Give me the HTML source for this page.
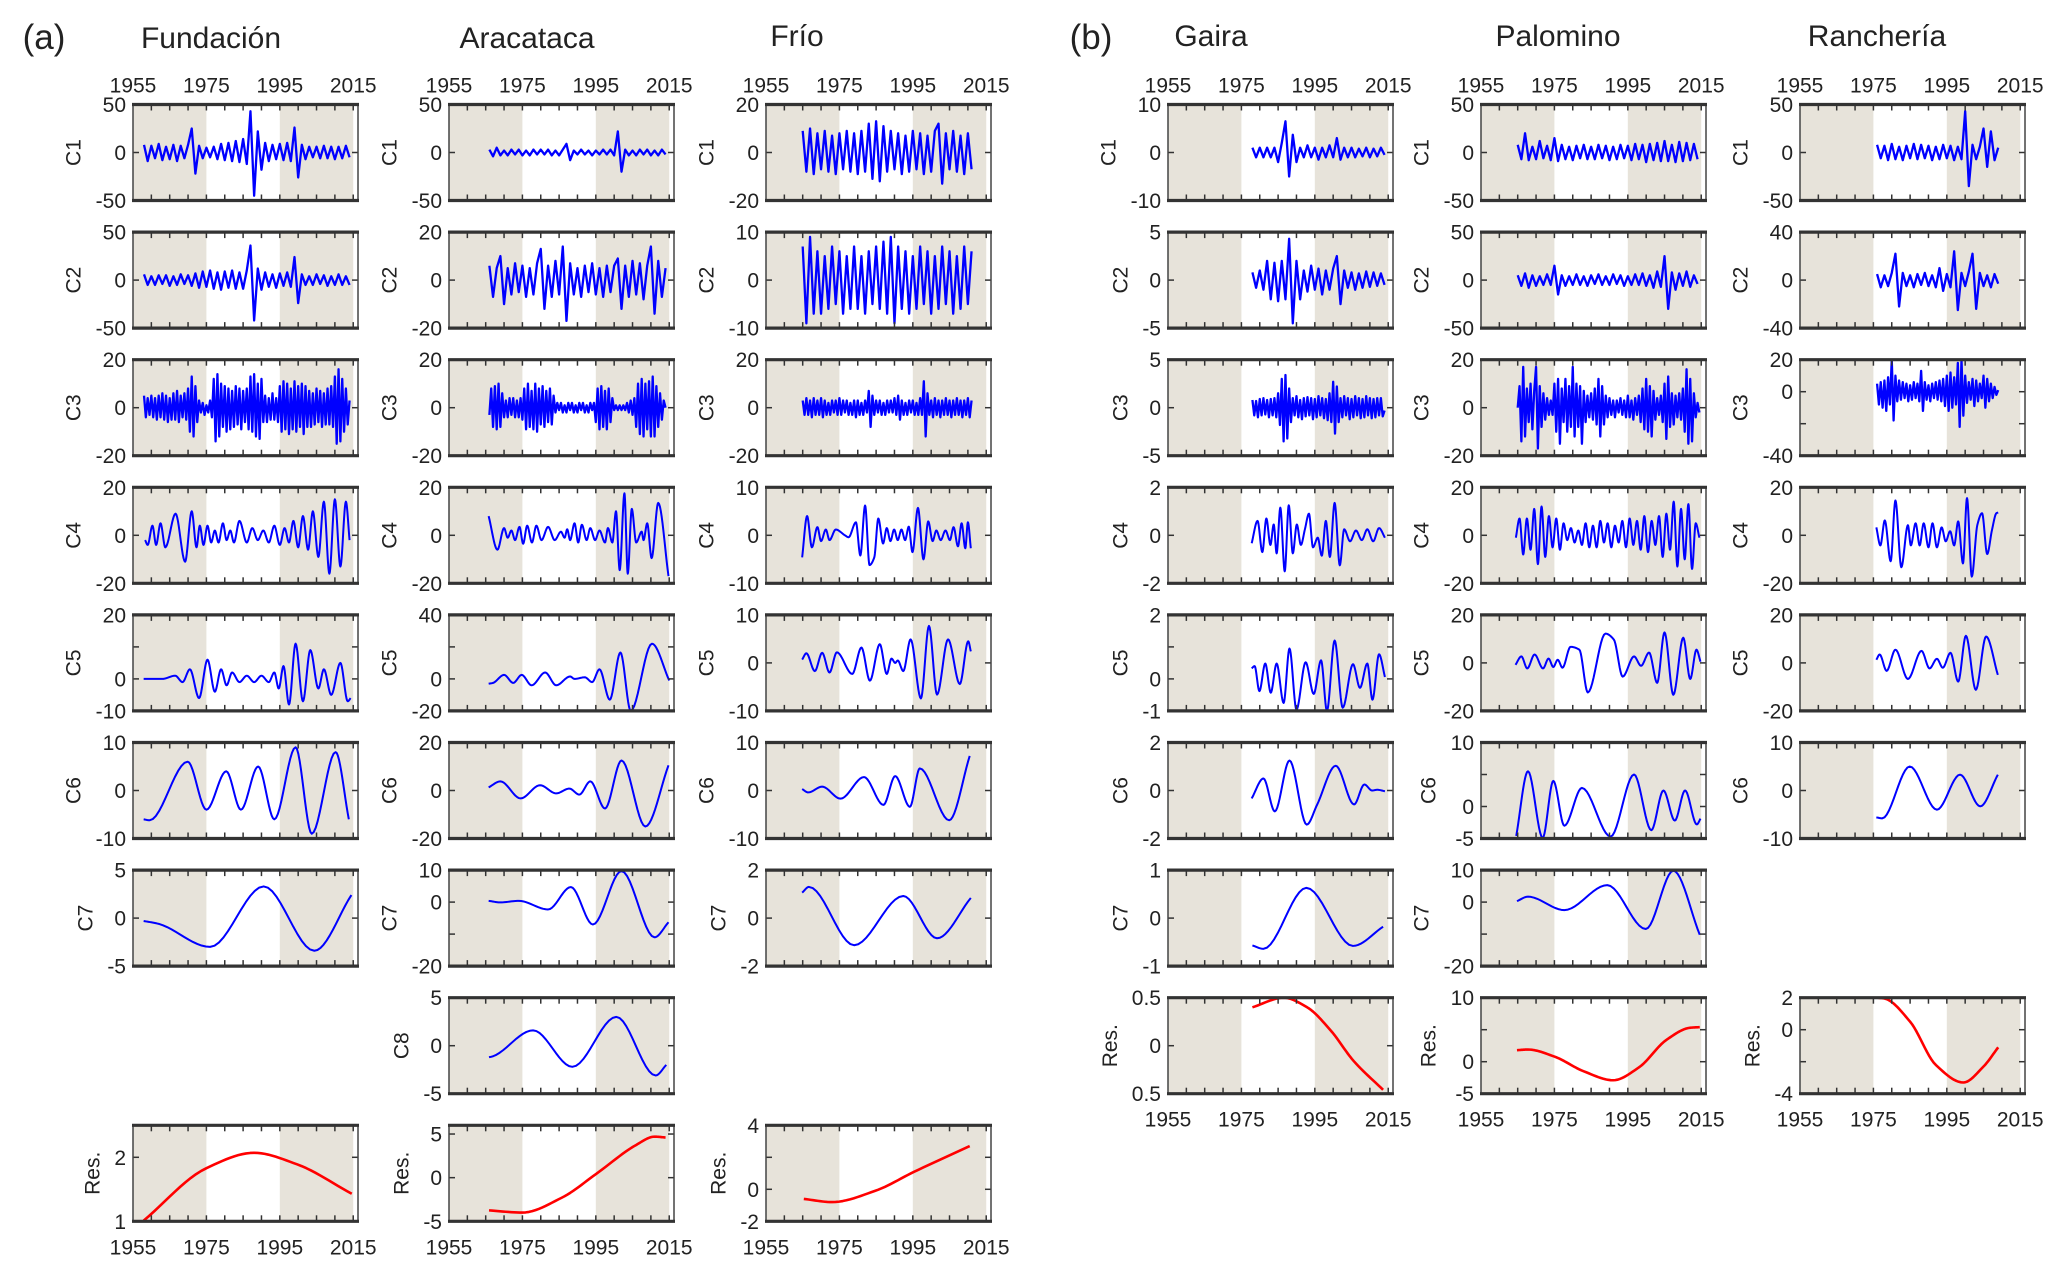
<!DOCTYPE html>
<html><head><meta charset="utf-8"><title>EMD components</title>
<style>
html,body{margin:0;padding:0;background:#fff;}
svg{display:block;font-family:"Liberation Sans",Arial,sans-serif;}
</style></head>
<body>
<svg id="fig" width="2067" height="1276" viewBox="0 0 2067 1276" xmlns="http://www.w3.org/2000/svg">
<rect x="0" y="0" width="2067" height="1276" fill="#fff"/>
<text x="44" y="49" font-size="35" text-anchor="middle" fill="#222">(a)</text>
<text x="211" y="48" font-size="30" text-anchor="middle" fill="#222">Fundación</text>
<text x="527" y="48" font-size="30" text-anchor="middle" fill="#222">Aracataca</text>
<text x="797" y="46" font-size="30" text-anchor="middle" fill="#222">Frío</text>
<text x="1091" y="49" font-size="35" text-anchor="middle" fill="#222">(b)</text>
<text x="1211" y="46" font-size="30" text-anchor="middle" fill="#222">Gaira</text>
<text x="1558" y="46" font-size="30" text-anchor="middle" fill="#222">Palomino</text>
<text x="1877" y="46" font-size="30" text-anchor="middle" fill="#222">Ranchería</text>
<g id="plots"></g>
</svg>
<script>
// ---------------- data ----------------
const yearTicks = [1955, 1975, 1995, 2015];
// Fundación
const fundC1 = [8,-9,7,-6,9,-8,6,-7,8,-9,7,-6,8,25,-22,7,-6,5,-5,6,-7,9,-8,10,-9,12,-10,14,-12,43,-45,22,-18,10,-9,8,-7,9,-8,10,-9,26,-26,8,-7,6,-5,6,-6,7,-6,6,-7,6,-6,7,-5];
const fundC2 = [6,-5,4,-5,5,-4,5,-6,4,-5,6,-4,5,-6,7,-8,9,-7,10,-9,8,-10,9,-8,10,-9,8,-9,10,36,-42,12,-10,8,-7,6,-8,7,-6,8,-7,24,-24,6,-5,4,-5,6,-4,5,-6,4,-5,6,-5,4,-5];
const fundC3 = [5,-4,4,-3,5,-4,4,-5,5,-4,6,-5,5,-6,4,-5,6,-5,7,-6,5,-4,6,-5,8,-10,13,-12,9,-6,3,-2,2,-3,1,-2,3,-4,12,-14,14,-12,10,-8,9,-10,8,-9,7,-8,9,-7,8,-9,7,-6,8,-9,13,-10,14,-12,10,-13,12,-6,5,-6,4,-5,6,-5,4,-6,9,-10,11,-9,10,-11,8,-9,11,-10,9,-8,10,-11,9,-8,7,-8,6,-7,8,-6,7,-8,6,-7,8,-7,9,-8,13,-15,16,-14,12,-10,8,-7,3];
const fundC4Yr = [1958.3,1959,1960.3,1961.3,1962.5,1963.8,1966.6,1969.2,1971,1972.3,1973.2,1974.2,1975.3,1976.3,1977.3,1978.3,1979.5,1980.5,1981.5,1982.5,1984,1986,1987.5,1989,1990.5,1992,1993.5,1995,1996.3,1997.5,1998.7,2000,2001.3,2002.7,2004,2005.5,2007,2008.5,2010,2011.5,2013,2014];
const fundC4Val = [-2,-4,4,-4,5,-5,9,-11,10,-5,4,-4,4,-3,2,-3,5,-2,2,-3,6,-3,3,-2,2,-3,4,-4,3,-3,6,-5,8,-6,10,-9,14,-16,15,-13,14,-2];
const fundC5Yr = [1957.9,1963,1966.5,1968.5,1970.5,1973,1975.3,1977.3,1979,1980.5,1982,1984,1986,1988,1990,1992,1993.5,1994.7,1996,1997.5,1999.3,2001.3,2003.3,2005.5,2007,2009,2011.5,2013.5,2014.3];
const fundC5Val = [0,0,1,-1,3,-6,6,-4,3,-2,2,-1,1,-1,1,-1,2,-3,4,-8,11,-7,9,-3,3,-5,5,-7,-6];
const fundC6Yr = [1957.9,1959.5,1969.9,1975,1980.4,1984.4,1989.1,1993.5,1999.3,2003.7,2010.2,2013.8];
const fundC6Val = [-6,-6.2,6,-4,4,-4,5,-6,9,-9,8,-6];
const fundC7Yr = [1957.9,1962,1976,1990.6,2004.4,2014.5];
const fundC7Val = [-0.3,-0.6,-3,3.3,-3.4,2.4];
const fundResYr = [1957.9,1975,1988,1999.7,2014.6];
const fundResVal = [1.01,1.83,2.07,1.89,1.43];
// Aracataca
const aracC1 = [3,-4,5,-3,2,-3,3,-2,3,-3,2,-3,3,-2,3,-2,3,-3,2,-3,3,9,-8,2,-2,3,-2,2,-3,2,-2,3,-2,3,-3,22,-20,3,-3,2,-3,3,-2,3,-3,2,-3,3,-2];
const aracC2 = [6,-7,5,10,-10,5,-6,7,-5,6,-7,5,-6,7,13,-12,6,-7,8,-6,14,-17,7,-6,5,-7,6,-5,7,-6,5,-7,6,-5,6,9,-12,6,-7,8,-6,7,-8,6,14,-14,8,-7,5];
const aracC3 = [-3,8,-8,9,-9,10,-8,6,-4,3,-4,4,-3,4,-4,3,-4,4,-5,8,-9,10,-8,7,-9,10,-10,8,-7,9,-8,7,-6,8,-7,5,-2,2,-1,2,-2,1,-2,2,-1,2,-2,1,-2,2,-1,2,-2,1,-2,2,-1,2,-6,8,-9,9,-8,7,-9,8,-6,4,-1,1,-1,1,-1,1,-1,2,-2,3,-3,4,-8,10,-11,12,-12,10,-9,11,-12,13,-12,9,-8,6,-5,3,0];
const aracC4Yr = [1965.8,1968.2,1970,1971,1972,1973,1974.2,1975.2,1976.3,1977.6,1978.8,1980.2,1982,1983.8,1985.5,1986.5,1987.2,1988,1989.2,1990.2,1991.2,1992.5,1993.5,1994.8,1996,1997.5,1998.3,1999.5,2000.5,2001.5,2002.8,2003.7,2004.8,2006,2007.5,2008,2009,2010.2,2012,2014.8];
const aracC4Val = [8,-6,3,-1,2,-2,3.5,-3.5,4,-3,4,-2,3.5,-2,1.5,-1,2.5,-2,5,-3,4.4,-2,3,-2,2,-3,3,-3,10,-14.5,17.5,-16,11,-3,1.5,-2,5,-9.5,13.5,-17];
const aracC5Yr = [1965.8,1967,1970,1972.5,1974.8,1977.5,1981.2,1984.2,1988,1989.2,1992,1994,1996,1998.8,2001.7,2004.5,2010.3,2015];
const aracC5Val = [-3,-2.5,2.5,-2.5,2.5,-4,4,-4,1.5,0,1,-2,6,-13,16.5,-20,22,-1];
const aracC6Yr = [1965.8,1969,1974.5,1979.8,1984.2,1987.8,1990.5,1993.5,1997.5,2002,2008.5,2014.8];
const aracC6Val = [1.3,3.8,-3.3,2.2,-1.2,0.8,-1.7,3.8,-7.5,12.5,-15,10.5];
const aracC7Yr = [1965.8,1969,1974,1982,1988.2,1994.2,2002,2011,2014.8];
const aracC7Val = [0.4,-0.1,0.4,-2.3,4.7,-7,9.7,-11,-6.3];
const aracC8Yr = [1965.9,1967,1977.9,1988.6,2000.6,2011.3,2014.2];
const aracC8Val = [-1.2,-1.1,1.6,-2.2,3,-3.1,-2];
const aracResYr = [1965.9,1975,1985.7,1995,2006,2011,2014];
const aracResVal = [-3.75,-4,-2.3,0.4,3.75,4.7,4.6];
// Frío
const frioC1 = [9,-8,10,-9,8,-7,9,-8,7,-9,8,-7,9,-8,8,-9,9,-8,12,-11,13,-12,11,-8,9,-7,8,-9,7,-8,9,-7,8,-9,7,-8,9,12,-13,8,-7,9,-8,7,-9,8,-7];
const frioC2 = [7,-9,9,-7,6,-7,5,-6,7,-5,6,-7,5,-6,7,-6,5,-7,6,-5,7,-6,8,-7,9,-9,7,-6,6,-7,5,-6,7,-5,6,-7,5,-6,7,-5,6,-7,5,-6,7,-5,6];
const frioC3 = [3,-3,4,-3,3,-4,4,-3,3,-3,4,-4,3,-3,2,-3,3,-2,3,-3,4,-3,3,-2,3,-3,2,-3,3,-4,3,-3,2,-3,3,-2,7,-8,5,-3,3,-2,3,-3,2,-3,3,-2,3,-2,4,-3,5,-5,3,-3,2,-3,3,-2,3,-3,2,-3,4,-3,11,-12,6,-3,3,-4,4,-3,3,-4,3,-3,4,-3,3,-4,3,-3,4,-3,3,-4,3,-3,4,-4,3];
const frioC4Yr = [1964.85,1966.2,1967.5,1969,1970,1971.3,1972.3,1974,1976.5,1977.5,1979.5,1980.7,1982,1983.2,1984.5,1985.6,1986.9,1987.9,1988.9,1989.9,1990.9,1991.9,1992.9,1993.9,1994.9,1996.4,1997.9,1999.2,2000.4,2001.4,2002.6,2003.9,2005.1,2006.1,2007.3,2008.3,2009.3,2010,2010.8];
const frioC4Val = [-4.6,4,-2.5,1.7,-1.2,1.2,-1,1.2,0,-0.4,2.7,-4.2,6.2,-6.2,-4.6,3.5,-1.7,1.5,-1.2,1.2,-1,1.2,-1,1.8,-3.5,5.7,-5,2.9,-1.2,1,-1,1,-1,1.7,-2.3,2.5,-2.7,2.7,-2.7];
const frioC5Yr = [1964.85,1966,1968.3,1970.3,1972.3,1974.3,1978.5,1981,1983.3,1986,1987.9,1989.2,1990.2,1990.9,1992.4,1994.4,1997.2,1999.4,2001.6,2004.6,2007.8,2010.1,2010.8];
const frioC5Val = [0.7,2,-1.7,2.1,-2,2.2,-2.3,3.2,-3.7,3.9,-2.3,0.9,0,0.5,-1.7,4.9,-7.4,7.7,-6.6,4.9,-4.4,4.5,2.4];
const frioC6Yr = [1964.85,1966.5,1970.3,1975.3,1981.7,1987,1990.2,1994.2,1996.9,2004.9,2010.5];
const frioC6Val = [0.3,-0.4,0.8,-1.7,2.8,-3,3,-3.4,4.6,-6.2,7.2];
const frioC7Yr = [1964.85,1966.7,1979,1992.4,2001.6,2010.8];
const frioC7Val = [1.06,1.3,-1.13,0.92,-0.84,0.84];
const frioResYr = [1965.3,1973,1984.7,1995.4,2010.5];
const frioResVal = [-0.6,-0.8,-0.1,1.1,2.7];
// Gaira
const gairaC1 = [1,-1,1,-1,1,-1,1,-2,2,6.5,-5,3.7,-2,1,-1,1.5,-1,1,-1.5,1,-1,1.5,-1,3,-1.5,1,-1,1,-1,0.8,-0.8,1,-1,0.8,-0.8,1,-0.5];
const gairaC2 = [0.8,-0.8,1,-1,2,-2,1.8,-2.2,2,-2,4.3,-4.5,2,-2,1,-1.2,1.5,-1,1.2,-1.5,1,-1,1.2,2.5,-2.5,1,-0.8,0.8,-1,0.7,-0.8,0.9,-0.7,0.8,-0.6,0.7,-0.5];
const gairaC3 = [0.8,-0.8,0.7,-1,0.9,-0.8,1,-0.7,0.8,-1,0.9,-0.8,1,-1,1.5,-1.8,3,-3.5,3.4,-3.2,2,-1.5,1,-0.8,1.2,-1,0.8,-1.2,1,-0.9,1.1,-0.8,1,-1.2,0.9,-1,1.2,-0.8,1,-1.1,0.9,-1.3,1.5,-1.5,2.7,-2.7,2.2,-1.5,1,-1,1.2,-0.8,1,-1.2,0.9,-1,1.2,-0.8,1,-1.1,0.9,-1,1.2,-0.8,1,-1.1,0.9,-1,1,-0.8,1,-0.9,-0.3];
const gairaC4Yr = [1977.8,1979.4,1980.7,1981.8,1982.9,1983.8,1984.6,1985.6,1986.8,1987.9,1989,1990.1,1991.2,1992.3,1993.4,1994.5,1995.8,1996.9,1998,1999.1,2000.4,2001.8,2003,2004.6,2006.2,2007.8,2009.3,2010.9,2012.5,2014.1];
const gairaC4Val = [-0.33,0.6,-0.7,0.7,-0.4,0.45,-0.75,1.15,-1.5,1.25,-0.75,0.45,-0.4,0.25,0.9,-0.5,-0.1,-0.85,0.6,-0.9,1.35,-1.25,0.25,-0.25,0.2,-0.2,0.25,-0.25,0.3,-0.1];
const gairaC5Yr = [1977.8,1978.6,1979.9,1981.5,1983,1984.6,1986.5,1988.1,1990,1992.5,1994.7,1996.7,1998.3,2000.4,2002.6,2005.4,2007.3,2009.3,2010.7,2012.5,2014.1];
const gairaC5Val = [0.33,0.4,-0.38,0.48,-0.43,0.48,-0.75,0.95,-0.96,0.52,-0.47,0.58,-1,1.2,-0.9,0.46,-0.28,0.48,-0.65,0.77,0.06];
const gairaC6Yr = [1977.8,1981,1984.1,1988.1,1992.8,1995.6,2000.7,2005.7,2008.5,2010.6,2012,2014.1];
const gairaC6Val = [-0.33,0.5,-0.87,1.25,-1.42,-0.6,1.03,-0.58,0.25,0,0.03,-0.03];
const gairaC7Yr = [1978,1981,1992.7,2005.4,2013.6];
const gairaC7Val = [-0.57,-0.64,0.63,-0.58,-0.18];
const gairaResYr = [1978,1986.5,1992.9,1999.3,2005.6,2013.6];
const gairaResVal = [0.4,0.5,0.4,0.16,-0.16,-0.46];
// Palomino
const palC1 = [8,-7,20,-8,6,-7,12,-6,7,-8,15,-9,8,-7,6,-8,7,-6,8,-7,6,-7,8,-6,7,-8,6,-7,8,-6,7,-8,9,-7,8,-10,9,-8,10,-9,12,-9,8,-10,11,-9,10,-8,9,-7];
const palC2 = [5,-6,7,-8,5,-6,4,-5,6,-5,15,-15,5,-6,4,-5,6,-5,4,-6,5,-4,6,-5,4,-5,6,-4,5,-6,4,-5,6,-5,7,-6,5,-8,9,-7,25,-30,8,-10,7,-6,9,-7,5,-4];
const palC3 = [0,9,-14,17,-12,8,-6,10,-9,7,17,-17,9,-8,6,-5,4,-3,3,-3,10,-10,12,-15,8,-6,12,-10,9,-8,17,-12,10,-8,9,-15,7,-6,5,-4,6,-5,8,-7,12,-12,9,-7,5,-4,4,-3,3,-4,3,-2,4,-3,3,-4,5,-4,3,-5,4,-3,5,-6,8,-9,12,-10,9,-12,7,-5,4,-3,5,-6,10,-13,13,-8,6,-7,5,-4,6,-5,8,-10,16,-15,12,-14,6,-4,2,-2];
const palC4 = [-1,7,-8,7,-6,11,-12,12,-9,8,-5,7,-6,5,-2,3,-3,2,-4,5,-5,4,-5,6,-3,5,-5,4,-3,6,-5,7,-4,6,-6,8,-7,6,-4,8,-9,9,-6,14,-13,11,-10,13,-14,5,-1];
const palC5Yr = [1964.4,1966,1967.6,1969.6,1971.9,1973.4,1974.7,1975.9,1977.2,1979.4,1981.8,1984.1,1988.9,1991.2,1993.6,1996.7,1998.6,2000.8,2003,2005,2007.4,2010.1,2012,2013.7,2014.8];
const palC5Val = [-0.8,2.7,-2.3,3.5,-2.3,1.8,-1.7,1.3,-2,6.7,5.5,-12.3,12.2,9.7,-5.7,2.7,-1.2,4.3,-8.3,12.7,-13.3,10.5,-6.7,5.5,0.5];
const palC6Yr = [1964.6,1967.8,1971.8,1974.7,1977.7,1982.5,1990.3,1996.7,2001.4,2004.7,2007.8,2010.6,2013.8,2014.8];
const palC6Val = [-4.6,5.5,-4.9,4,-3,2.9,-4.7,5,-3.7,2.5,-2.2,2.5,-2.8,-1.9];
const palC7Yr = [1964.8,1967.8,1977.7,1989.4,1999.9,2007.4,2014.6];
const palC7Val = [0.3,1.7,-2.5,5.3,-8.4,9.8,-10.2];
const palResYr = [1964.8,1967.8,1975,1983,1991,1998,2005.5,2011.9,2014.6];
const palResVal = [1.8,1.9,0.8,-1.5,-2.9,-0.9,3.4,5.3,5.4];
// Ranchería
const ranC1 = [8,-6,7,-8,9,-7,6,-8,7,-6,9,-7,8,-6,7,-8,6,-7,8,-6,7,-8,6,-7,43,-35,8,-7,6,25,-15,22,-8,5];
const ranC2 = [5,-6,4,-5,6,22,-22,6,-5,4,-6,5,-4,6,-5,4,-6,10,-9,5,-6,24,-25,6,-5,7,22,-24,6,-5,4,-6,5,-3];
const ranC3 = [5,-8,6,-10,7,-12,9,-8,20,-18,10,-6,7,-5,6,-4,5,-6,4,-5,6,-4,5,-6,13,-12,6,-5,4,-6,5,-4,6,-5,7,-6,8,-9,10,-12,12,-10,9,-8,18,-22,20,-15,10,-7,6,-5,8,-9,7,-6,5,-4,10,-10,8,-6,5,-4,3,-2,1];
const ranC4Yr = [1975.8,1976.9,1978.1,1979.7,1981,1982.6,1984.4,1985.2,1986.5,1987.6,1988.7,1990,1991.1,1992.3,1993.6,1994.7,1995.9,1997,1998.1,1999.4,2000.5,2001.8,2003.3,2004.6,2006,2007.3,2008.5,2009];
const ranC4Val = [3.3,-4.2,6.2,-10.8,14.5,-13.3,4.2,-4.2,5,-4.2,5,-5,5,-5,3.3,-2.5,1.7,-4.2,5.8,-11.7,15.5,-17.2,4.2,9.2,-7.8,2.2,9.2,9.5];
const ranC5Yr = [1975.8,1976.7,1978.6,1981,1984.4,1988.1,1990.3,1992.3,1993.9,1996,1998.1,2000.2,2002.9,2005.7,2008.9];
const ranC5Val = [1.3,3.5,-3.3,5.5,-6.7,5,-2.3,1.7,-2,4.2,-7.8,11.3,-11.2,11,-5];
const ranC6Yr = [1975.8,1977.4,1984.9,1992.3,1998.6,2004.1,2008.9];
const ranC6Val = [-5.6,-5.8,5,-4,3.3,-3.3,3.3];
const ranResYr = [1976,1978,1985,1992,1999.5,2005,2009];
const ranResVal = [2,1.95,0.5,-2.2,-3.3,-2.3,-1.1];

// ---------------- panel configuration ----------------
const COLS = [133, 449, 766, 1168, 1481, 1800];
const PW = 225, PH = 96, ROW0 = 104.5, RSTEP = 127.6, YSPAN = 61.3;
function D(start, step, vals){ return {kind:'dense', start:start, step:step, vals:vals}; }
function U(start, step, vals){ return {kind:'uni', start:start, step:step, vals:vals}; }
function P(yr, val, res){ return {kind:'pairs', yr:yr, val:val, res:!!res}; }
const panels = [
 {st:'fundacion',col:0,row:0,lab:'C1',lo:-50,hi:50,tk:[-50,0,50],tl:[-50,0,50],s:D(1958,1,fundC1)},
 {st:'fundacion',col:0,row:1,lab:'C2',lo:-50,hi:50,tk:[-50,0,50],tl:[-50,0,50],s:D(1958,1,fundC2)},
 {st:'fundacion',col:0,row:2,lab:'C3',lo:-20,hi:20,tk:[-20,0,20],tl:[-20,0,20],s:D(1958,0.5,fundC3)},
 {st:'fundacion',col:0,row:3,lab:'C4',lo:-20,hi:20,tk:[-20,0,20],tl:[-20,0,20],s:P(fundC4Yr,fundC4Val)},
 {st:'fundacion',col:0,row:4,lab:'C5',lo:-10,hi:20,tk:[-10,0,10,20],tl:[-10,0,20],s:P(fundC5Yr,fundC5Val)},
 {st:'fundacion',col:0,row:5,lab:'C6',lo:-10,hi:10,tk:[-10,0,10],tl:[-10,0,10],s:P(fundC6Yr,fundC6Val)},
 {st:'fundacion',col:0,row:6,lab:'C7',lo:-5,hi:5,tk:[-5,0,5],tl:[-5,0,5],s:P(fundC7Yr,fundC7Val)},
 {st:'fundacion',col:0,row:8,lab:'Res.',lo:1,hi:2.5,tk:[1,2],tl:[1,2],s:P(fundResYr,fundResVal,1),bottom:true},
 {st:'aracataca',col:1,row:0,lab:'C1',lo:-50,hi:50,tk:[-50,0,50],tl:[-50,0,50],s:D(1966,1,aracC1)},
 {st:'aracataca',col:1,row:1,lab:'C2',lo:-20,hi:20,tk:[-20,0,20],tl:[-20,0,20],s:D(1966,1,aracC2)},
 {st:'aracataca',col:1,row:2,lab:'C3',lo:-20,hi:20,tk:[-20,0,20],tl:[-20,0,20],s:D(1966,0.5,aracC3)},
 {st:'aracataca',col:1,row:3,lab:'C4',lo:-20,hi:20,tk:[-20,0,20],tl:[-20,0,20],s:P(aracC4Yr,aracC4Val)},
 {st:'aracataca',col:1,row:4,lab:'C5',lo:-20,hi:40,tk:[-20,0,20,40],tl:[-20,0,40],s:P(aracC5Yr,aracC5Val)},
 {st:'aracataca',col:1,row:5,lab:'C6',lo:-20,hi:20,tk:[-20,0,20],tl:[-20,0,20],s:P(aracC6Yr,aracC6Val)},
 {st:'aracataca',col:1,row:6,lab:'C7',lo:-20,hi:10,tk:[-20,-10,0,10],tl:[-20,0,10],s:P(aracC7Yr,aracC7Val)},
 {st:'aracataca',col:1,row:7,lab:'C8',lo:-5,hi:5,tk:[-5,0,5],tl:[-5,0,5],s:P(aracC8Yr,aracC8Val)},
 {st:'aracataca',col:1,row:8,lab:'Res.',lo:-5,hi:6,tk:[-5,0,5],tl:[-5,0,5],s:P(aracResYr,aracResVal,1),bottom:true},
 {st:'frio',col:2,row:0,lab:'C1',lo:-20,hi:20,tk:[-20,0,20],tl:[-20,0,20],s:D(1965,1,frioC1)},
 {st:'frio',col:2,row:1,lab:'C2',lo:-10,hi:10,tk:[-10,0,10],tl:[-10,0,10],s:D(1965,1,frioC2)},
 {st:'frio',col:2,row:2,lab:'C3',lo:-20,hi:20,tk:[-20,0,20],tl:[-20,0,20],s:D(1965,0.5,frioC3)},
 {st:'frio',col:2,row:3,lab:'C4',lo:-10,hi:10,tk:[-10,0,10],tl:[-10,0,10],s:P(frioC4Yr,frioC4Val)},
 {st:'frio',col:2,row:4,lab:'C5',lo:-10,hi:10,tk:[-10,0,10],tl:[-10,0,10],s:P(frioC5Yr,frioC5Val)},
 {st:'frio',col:2,row:5,lab:'C6',lo:-10,hi:10,tk:[-10,0,10],tl:[-10,0,10],s:P(frioC6Yr,frioC6Val)},
 {st:'frio',col:2,row:6,lab:'C7',lo:-2,hi:2,tk:[-2,0,2],tl:[-2,0,2],s:P(frioC7Yr,frioC7Val)},
 {st:'frio',col:2,row:8,lab:'Res.',lo:-2,hi:4,tk:[-2,0,2,4],tl:[-2,0,4],s:P(frioResYr,frioResVal,1),bottom:true},
 {st:'gaira',col:3,row:0,lab:'C1',lo:-10,hi:10,tk:[-10,0,10],tl:[-10,0,10],s:D(1978,1,gairaC1)},
 {st:'gaira',col:3,row:1,lab:'C2',lo:-5,hi:5,tk:[-5,0,5],tl:[-5,0,5],s:D(1978,1,gairaC2)},
 {st:'gaira',col:3,row:2,lab:'C3',lo:-5,hi:5,tk:[-5,0,5],tl:[-5,0,5],s:D(1978,0.5,gairaC3)},
 {st:'gaira',col:3,row:3,lab:'C4',lo:-2,hi:2,tk:[-2,0,2],tl:[-2,0,2],s:P(gairaC4Yr,gairaC4Val)},
 {st:'gaira',col:3,row:4,lab:'C5',lo:-1,hi:2,tk:[-1,0,1,2],tl:[-1,0,2],s:P(gairaC5Yr,gairaC5Val)},
 {st:'gaira',col:3,row:5,lab:'C6',lo:-2,hi:2,tk:[-2,0,2],tl:[-2,0,2],s:P(gairaC6Yr,gairaC6Val)},
 {st:'gaira',col:3,row:6,lab:'C7',lo:-1,hi:1,tk:[-1,0,1],tl:[-1,0,1],s:P(gairaC7Yr,gairaC7Val)},
 {st:'gaira',col:3,row:7,lab:'Res.',lo:-0.5,hi:0.5,tk:[-0.5,0,0.5],tl:['0.5','0','0.5'],s:P(gairaResYr,gairaResVal,1),bottom:true},
 {st:'palomino',col:4,row:0,lab:'C1',lo:-50,hi:50,tk:[-50,0,50],tl:[-50,0,50],s:D(1965,1,palC1)},
 {st:'palomino',col:4,row:1,lab:'C2',lo:-50,hi:50,tk:[-50,0,50],tl:[-50,0,50],s:D(1965,1,palC2)},
 {st:'palomino',col:4,row:2,lab:'C3',lo:-20,hi:20,tk:[-20,0,20],tl:[-20,0,20],s:D(1965,0.5,palC3)},
 {st:'palomino',col:4,row:3,lab:'C4',lo:-20,hi:20,tk:[-20,0,20],tl:[-20,0,20],s:U(1964.5,1,palC4)},
 {st:'palomino',col:4,row:4,lab:'C5',lo:-20,hi:20,tk:[-20,0,20],tl:[-20,0,20],s:P(palC5Yr,palC5Val)},
 {st:'palomino',col:4,row:5,lab:'C6',lo:-5,hi:10,tk:[-5,0,5,10],tl:[-5,0,10],s:P(palC6Yr,palC6Val)},
 {st:'palomino',col:4,row:6,lab:'C7',lo:-20,hi:10,tk:[-20,-10,0,10],tl:[-20,0,10],s:P(palC7Yr,palC7Val)},
 {st:'palomino',col:4,row:7,lab:'Res.',lo:-5,hi:10,tk:[-5,0,5,10],tl:[-5,0,10],s:P(palResYr,palResVal,1),bottom:true},
 {st:'rancheria',col:5,row:0,lab:'C1',lo:-50,hi:50,tk:[-50,0,50],tl:[-50,0,50],s:D(1976,1,ranC1)},
 {st:'rancheria',col:5,row:1,lab:'C2',lo:-40,hi:40,tk:[-40,0,40],tl:[-40,0,40],s:D(1976,1,ranC2)},
 {st:'rancheria',col:5,row:2,lab:'C3',lo:-40,hi:20,tk:[-40,-20,0,20],tl:[-40,0,20],s:D(1976,0.5,ranC3)},
 {st:'rancheria',col:5,row:3,lab:'C4',lo:-20,hi:20,tk:[-20,0,20],tl:[-20,0,20],s:P(ranC4Yr,ranC4Val)},
 {st:'rancheria',col:5,row:4,lab:'C5',lo:-20,hi:20,tk:[-20,0,20],tl:[-20,0,20],s:P(ranC5Yr,ranC5Val)},
 {st:'rancheria',col:5,row:5,lab:'C6',lo:-10,hi:10,tk:[-10,0,10],tl:[-10,0,10],s:P(ranC6Yr,ranC6Val)},
 {st:'rancheria',col:5,row:7,lab:'Res.',lo:-4,hi:2,tk:[-4,-2,0,2],tl:[-4,0,2],s:P(ranResYr,ranResVal,1),bottom:true}
];

// ---------------- drawing ----------------
const NS = 'http://www.w3.org/2000/svg';
const root = document.getElementById('plots');
function mk(tag, attrs, parent){
  const e = document.createElementNS(NS, tag);
  for (const k in attrs) e.setAttribute(k, attrs[k]);
  (parent || root).appendChild(e);
  return e;
}
function xScale(col, yr){ return COLS[col] + (yr - 1955) * PW / YSPAN; }
function yScale(top, lo, hi, v){ return top + PH - (v - lo) / (hi - lo) * PH; }
function textW(s){ let w = 0; for (const c of String(s)) w += (c === '-' ? 7 : c === '.' ? 5.8 : 11.7); return w; }

function monotone(xs, ys){
  const n = xs.length, d = [], m = new Array(n);
  for (let i = 0; i < n - 1; i++) d.push((ys[i+1] - ys[i]) / (xs[i+1] - xs[i]));
  m[0] = d[0]; m[n-1] = d[n-2];
  for (let i = 1; i < n - 1; i++) m[i] = (d[i-1] * d[i] <= 0) ? 0 : 2 / (1 / d[i-1] + 1 / d[i]);
  const out = [];
  for (let i = 0; i < n - 1; i++){
    const h = xs[i+1] - xs[i];
    const steps = 12;
    for (let k = 0; k < steps; k++){
      const t = k / steps, t2 = t*t, t3 = t2*t;
      const y = (2*t3 - 3*t2 + 1) * ys[i] + (t3 - 2*t2 + t) * h * m[i] + (-2*t3 + 3*t2) * ys[i+1] + (t3 - t2) * h * m[i+1];
      out.push([xs[i] + t * h, y]);
    }
  }
  out.push([xs[n-1], ys[n-1]]);
  return out;
}

let clipId = 0;
panels.forEach(function(p){
  const left = COLS[p.col], top = ROW0 + p.row * RSTEP;
  const g = mk('g', {});
  
  
  const bg = mk('rect', {x:left, y:top, width:PW, height:PH, fill:'#fff'}, g);
  
  
  [[1955,1975],[1995,2015]].forEach(function(r){
    const sh = mk('rect', {x:xScale(p.col, r[0]), y:top, width:xScale(p.col, r[1]) - xScale(p.col, r[0]), height:PH, fill:'#e7e3da'}, g);
    
    
  });
  const id = 'clip' + (clipId++);
  const cp = mk('clipPath', {id:id}, g);
  mk('rect', {x:left, y:top - 1, width:PW, height:PH + 2}, cp);
  let pts = [];
  const s = p.s;
  if (s.kind === 'dense'){
    s.vals.forEach(function(v, i){ pts.push([s.start + i * s.step, v]); });
  } else if (s.kind === 'uni'){
    const xs = s.vals.map(function(v, i){ return s.start + i * s.step; });
    pts = monotone(xs, s.vals);
  } else {
    pts = monotone(s.yr, s.val);
  }
  const dstr = pts.map(function(q, i){ return (i ? 'L' : 'M') + xScale(p.col, q[0]).toFixed(2) + ' ' + yScale(top, p.lo, p.hi, q[1]).toFixed(2); }).join(' ');
  const isRes = s.kind === 'pairs' && s.res;
  const sw = isRes ? 2.6 : (s.kind === 'dense' ? 2.3 : 2);
  const path = mk('path', {d:dstr, fill:'none', stroke: isRes ? '#ff0000' : '#0000ff', 'stroke-width': sw, 'stroke-linejoin':'round', 'clip-path':'url(#' + id + ')'}, g);
  
  
  for (let yr = 1960; yr <= 2015; yr += 5){
    const x = xScale(p.col, yr);
    mk('line', {x1:x, y1:top, x2:x, y2:top + 6, stroke:'#333', 'stroke-width':1.5}, g);
    mk('line', {x1:x, y1:top + PH, x2:x, y2:top + PH - 6, stroke:'#333', 'stroke-width':1.5}, g);
  }
  p.tk.forEach(function(v){
    const y = yScale(top, p.lo, p.hi, v);
    mk('line', {x1:left, y1:y, x2:left + 6, y2:y, stroke:'#333', 'stroke-width':1.5}, g);
    mk('line', {x1:left + PW, y1:y, x2:left + PW - 6, y2:y, stroke:'#333', 'stroke-width':1.5}, g);
  });
  const fr = mk('rect', {x:left, y:top, width:PW, height:PH, fill:'none', stroke:'#444', 'stroke-width':1.5}, g);
  
  
  mk('line', {x1:left - 1, y1:top, x2:left + PW + 1, y2:top, stroke:'#333', 'stroke-width':3.2}, g);
  mk('line', {x1:left - 1, y1:top + PH, x2:left + PW + 1, y2:top + PH, stroke:'#333', 'stroke-width':3.2}, g);
  let maxW = 0;
  const labVals = p.tl;
  const labPos = (p.lab === 'Res.' && p.st === 'gaira') ? [-0.5, 0, 0.5] : p.tl;
  labVals.forEach(function(lv, i){
    const v = labPos[i];
    const y = yScale(top, p.lo, p.hi, v);
    const t = mk('text', {x:left - 7, y:y + 7.5, 'font-size':21, 'text-anchor':'end', fill:'#222'}, g);
    t.textContent = String(lv);
    
    
    maxW = Math.max(maxW, textW(lv));
  });
  const cy = top + PH / 2, cx = left - maxW - 22;
  const yt = mk('text', {x:cx, y:cy, 'font-size':21, 'text-anchor':'middle', fill:'#222', transform:'rotate(-90 ' + cx + ' ' + cy + ')'}, g);
  yt.textContent = p.lab;
  
  
  if (p.row === 0 || p.bottom){
    const yy = p.row === 0 ? top - 12 : top + PH + 33;
    yearTicks.forEach(function(yr){
      const t = mk('text', {x:xScale(p.col, yr), y:yy, 'font-size':21, 'text-anchor':'middle', fill:'#222'}, g);
      t.textContent = String(yr);
      
      
    });
  }
});
</script>
</body></html>
